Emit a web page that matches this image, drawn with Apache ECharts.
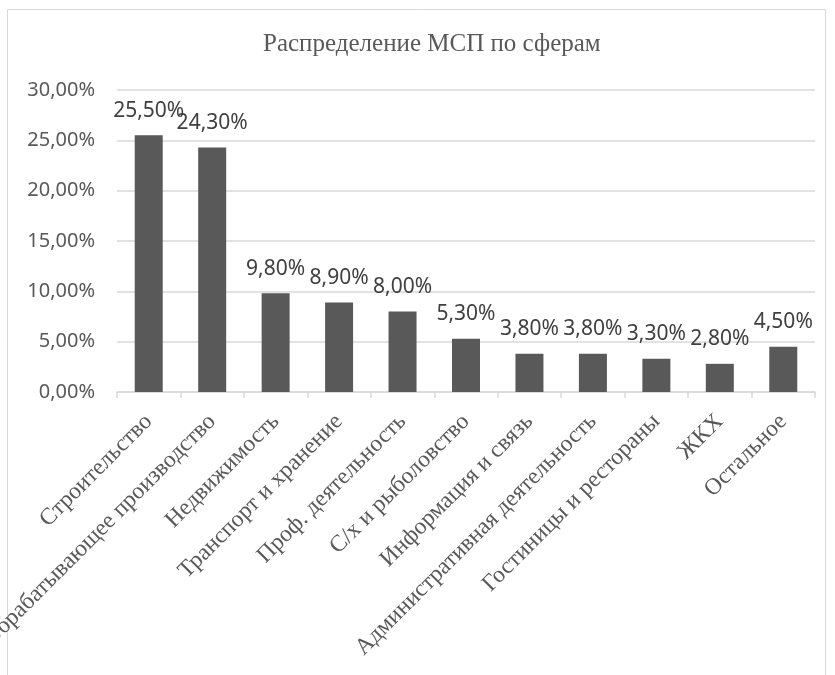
<!DOCTYPE html>
<html>
<head>
<meta charset="utf-8">
<script src="https://cdn.jsdelivr.net/npm/echarts@6/dist/echarts.min.js"></script>
<style>
  html, body { margin: 0; padding: 0; background: #fff; }
  #chart { width: 835px; height: 675px; }
</style>
</head>
<body>
<div id="chart"></div>
<script>
// данные
const categories = [
  'Строительство', 'Обрабатывающее производство', 'Недвижимость', 'Транспорт и хранение',
  'Проф. деятельность', 'С/х и рыболовство', 'Информация и связь',
  'Административная деятельность', 'Гостиницы и рестораны', 'ЖКХ', 'Остальное'
];
const shares = [25.5, 24.3, 9.8, 8.9, 8.0, 5.3, 3.8, 3.8, 3.3, 2.8, 4.5];
const yTicks = [0, 5, 10, 15, 20, 25, 30];

const fmt = v => v.toFixed(2).replace('.', ',') + '%';

const myChart = echarts.init(document.getElementById('chart'));
myChart.setOption({
  animation: false,
  title: {
    text: 'Распределение МСП по сферам',
    left: 258,
    top: 27,
    textStyle: { fontFamily: 'Liberation Serif', fontSize: 25, fontWeight: 'normal', color: '#595959' }
  },
  graphic: [{
    type: 'rect',
    shape: { x: 7.5, y: 9.5, width: 818, height: 700 },
    style: { fill: 'none', stroke: '#d9d9d9', lineWidth: 1 },
    silent: true
  }],
  grid: { left: 117, right: 20, top: 90, bottom: 283, containLabel: false, outerBoundsMode: 'none' },
  xAxis: {
    type: 'category',
    data: categories,
    axisLine: { lineStyle: { color: '#d9d9d9', width: 1.5 } },
    axisTick: { show: true, length: 6, lineStyle: { color: '#d9d9d9', width: 1.5 } },
    axisLabel: {
      interval: 0,
      rotate: 45,
      margin: 26,
      fontFamily: 'Liberation Serif',
      fontSize: 23.5,
      color: '#595959'
    }
  },
  yAxis: {
    type: 'value',
    min: yTicks[0],
    max: yTicks[yTicks.length - 1],
    interval: 5,
    axisLine: { show: false },
    axisTick: { show: false },
    splitLine: { lineStyle: { color: '#d9d9d9', width: 1.5 } },
    axisLabel: {
      margin: 22,
      fontFamily: 'Noto Sans',
      fontSize: 20,
      color: '#595959',
      formatter: fmt
    }
  },
  series: [{
    type: 'bar',
    data: shares,
    barWidth: 28,
    itemStyle: { color: '#595959' },
    label: {
      show: true,
      position: 'top',
      distance: 14,
      fontFamily: 'Noto Sans',
      fontSize: 21,
      color: '#404040',
      formatter: p => fmt(p.value)
    }
  }]
});
</script>
</body>
</html>
